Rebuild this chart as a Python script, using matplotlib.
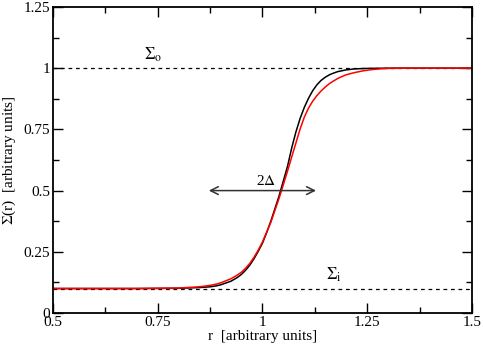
import matplotlib
matplotlib.use('Agg')
import matplotlib.pyplot as plt
from matplotlib.ticker import MultipleLocator

plt.rcParams['font.family'] = ['Liberation Serif', 'DejaVu Serif']
plt.rcParams['mathtext.fontset'] = 'stix'

# points
r_black = [0.5, 0.6, 0.7, 0.8, 0.85, 0.875, 0.89, 0.9, 0.925, 0.94, 0.95, 0.96,
           0.97, 0.98, 0.99, 1.0, 1.01, 1.02, 1.03, 1.04, 1.05, 1.06, 1.07,
           1.08, 1.09, 1.1, 1.11, 1.12, 1.13, 1.14, 1.15, 1.16, 1.17, 1.18,
           1.2, 1.22, 1.25, 1.3, 1.4, 1.5]
s_black = [0.1, 0.1, 0.1, 0.101, 0.104, 0.107, 0.111, 0.115, 0.13, 0.145, 0.158,
           0.175, 0.196, 0.222, 0.252, 0.285, 0.328, 0.375, 0.427, 0.48, 0.54,
           0.6, 0.675, 0.74, 0.795, 0.84, 0.877, 0.908, 0.932, 0.95, 0.963,
           0.973, 0.98, 0.986, 0.993, 0.997, 0.999, 1.0, 1.0, 1.0]

r_red = [0.5, 0.6, 0.7, 0.8, 0.85, 0.875, 0.89, 0.9, 0.925, 0.94, 0.95, 0.96,
         0.97, 0.98, 0.99, 1.0, 1.01, 1.02, 1.03, 1.04, 1.05, 1.06, 1.07, 1.08,
         1.09, 1.1, 1.11, 1.12, 1.13, 1.14, 1.15, 1.16, 1.17, 1.18, 1.19, 1.2,
         1.22, 1.24, 1.26, 1.28, 1.3, 1.35, 1.5]
s_red = [0.1, 0.1, 0.1, 0.102, 0.107, 0.113, 0.118, 0.123, 0.14, 0.155, 0.167,
         0.183, 0.203, 0.228, 0.257, 0.29, 0.33, 0.37, 0.42, 0.47, 0.525, 0.58,
         0.638, 0.695, 0.752, 0.8, 0.837, 0.865, 0.888, 0.907, 0.923, 0.937,
         0.948, 0.958, 0.966, 0.973, 0.982, 0.989, 0.994, 0.997, 0.999, 1.0, 1.0]

sigma_o = 1.0
sigma_i = 0.1
arrow_x = [0.872, 1.128]
arrow_y = 0.5

fig = plt.figure(figsize=(4.83, 3.53), dpi=100)
ax = fig.add_axes([0.1097, 0.1133, 0.8673, 0.867])

ax.axhline(sigma_o, color='black', ls=(0, (3, 3)), lw=0.9)
ax.axhline(sigma_i, color='black', ls=(0, (3, 3)), lw=0.9)
ax.plot(r_black, s_black, color='black', lw=1.1)
ax.plot(r_red, s_red, color='red', lw=1.1)

ax.annotate('', xy=(arrow_x[0], arrow_y), xytext=(arrow_x[1], arrow_y),
            arrowprops=dict(arrowstyle='<->', color='#333333', lw=1.1,
                            shrinkA=0, shrinkB=0, mutation_scale=14))
ax.text(1.008, 0.512, r'2$\Delta$', ha='center', va='bottom', fontsize=11)
ax.text(0.74, 1.018, r'$\Sigma_\mathrm{o}$', ha='center', va='bottom', fontsize=12)
ax.text(1.17, 0.118, r'$\Sigma_\mathrm{i}$', ha='center', va='bottom', fontsize=12)

ax.set_xlim(0.5, 1.5)
ax.set_ylim(0, 1.25)
ax.xaxis.set_minor_locator(MultipleLocator(0.125))
ax.yaxis.set_minor_locator(MultipleLocator(0.125))
ax.set_xticks([0.5, 0.75, 1, 1.25, 1.5])
ax.set_xticklabels(['0.5', '0.75', '1', '1.25', '1.5'])
ax.set_yticks([0, 0.25, 0.5, 0.75, 1, 1.25])
ax.set_yticklabels(['0', '0.25', '0.5', '0.75', '1', '1.25'])
ax.tick_params(which='both', direction='in', top=True, right=True, labelsize=11, width=1)
ax.tick_params(which='major', length=7, pad=2)
ax.tick_params(which='minor', length=4)
for sp in ax.spines.values():
    sp.set_linewidth(1.3)

ax.set_xlabel('r  [arbitrary units]', fontsize=11, labelpad=1)
ax.set_ylabel(r'$\Sigma$(r)  [arbitrary units]', fontsize=11, labelpad=4)

fig.savefig('out.png', dpi=100)
